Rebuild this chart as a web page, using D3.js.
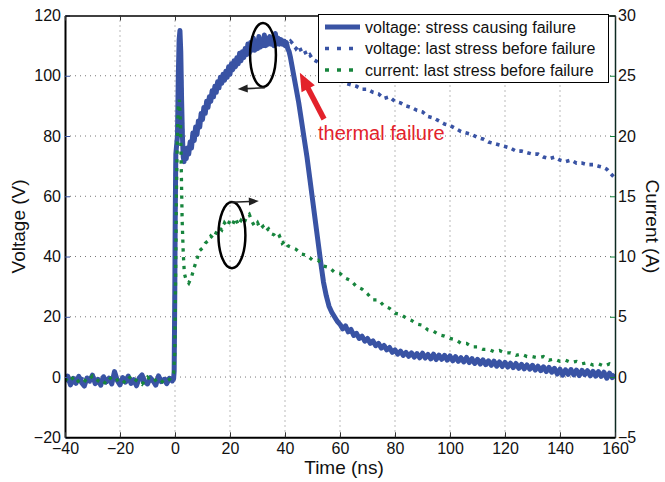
<!DOCTYPE html>
<html><head><meta charset="utf-8">
<script src="https://cdn.jsdelivr.net/npm/d3@7"></script>
<style>
html,body{margin:0;padding:0;background:#fff;}
svg{display:block;font-family:"Liberation Sans",Arial,Helvetica,sans-serif;}
</style></head>
<body><svg id="c" width="665" height="482"></svg>
<script>
// ---------- data ----------
const timeTicks = [-40,-20,0,20,40,60,80,100,120,140,160];
const voltTicks = [-20,0,20,40,60,80,100,120];
const currTicks = [-5,0,5,10,15,20,25,30];
const seriesNames = ["voltage: stress causing failure","voltage: last stress before failure","current: last stress before failure"];
const axisTitles = {x:"Time (ns)", yl:"Voltage (V)", yr:"Current (A)"};

// voltage, stress causing failure [t(ns), V]
const voltageFailure = [[-40,-1.5],[-39,0.3],[-38,-2.6],[-37,-0.4],[-36,-2.1],[-35,0.2],[-34,-1.8],[-33,-3],[-32,-0.3],[-31,-1.2],[-30,0.6],[-29,-2.2],[-28,-0.8],[-27,-2.7],[-26,0.1],[-25,-1.6],[-24,-0.4],[-23,-2.3],[-22,1.8],[-21,-1.1],[-20,-2.6],[-19,-0.2],[-18,-1.7],[-17,0.3],[-16,-2.1],[-15,-0.9],[-14,-2.9],[-13,-0.3],[-12,0.7],[-11,-1.6],[-10,-2.3],[-9,-0.2],[-8,-1.2],[-7,-2.7],[-6,0.4],[-5,-1.5],[-4,-0.8],[-3,-2.2],[-2,-0.4],[-1,-1.3],[-0.5,-0.6],
[-0.3,2],[-0.1,25],[0.1,55],[0.3,74],[0.6,77],[0.9,80],[1.2,100],[1.5,112],[1.8,115],[2.1,108],[2.4,92],[2.7,80],[3.0,73],[3.3,71.5],[3.7,74],[4.1,72.5],[4.5,76],[5,74],[5.5,78],[6,76],[6.5,81],[7,78.5],[7.5,83],[8,80.5],[8.5,85],[9,83],[9.5,87.5],[10,85.5],[10.5,89.5],[11,87.5],[11.5,91.5],[12,89.5],[12.5,93],[13,91.5],[13.5,95],[14,93],[14.5,96.5],[15,94.5],[15.5,98],[16,96],[16.5,99.5],[17,97.5],[17.5,100.5],[18,98.5],[18.5,101.5],[19,99.5],[19.5,103],[20,100.5],[20.5,104],[21,102],[21.5,105],[22,103],[22.5,106],[23,104],[23.5,107.5],[24,105],[24.5,108],[25,106],[25.5,109],[26,107],[26.5,110.5],[27,107.5],[27.5,111],[28,108.5],[28.5,112.5],[29,108.5],[29.5,111.5],[30,109],[30.5,113],[31,109.5],[31.5,112],[32,110],[32.5,113.5],[33,110],[33.5,112.5],[34,110.5],[34.5,113],[35,110.5],[35.5,112],[36,110],[36.5,114],[37,110.5],[37.5,112.5],[38,110.5],[38.5,112],[39,110.5],[39.5,111.5],[40,110],[40.5,111],[41,109],
[41.5,108],[42,106],[43,101],[44,96],[45,91],[46,85],[47,79],[48,73],[49,66],[50,59],[51,52],[52,45],[53,38],[54,31.5],[55,27],[56,23.5],[57,21.5],[58,20],[59,18.5],[60,17.5],
[61,16],[62,17],[63,15],[64,15.8],[65,13.8],[66,14.5],[67,12.8],[68,13.6],[69,11.9],[70,12.8],[71,11.2],[72,12],[73,10.4],[74,11.2],[75,9.6],[76,10.5],[77,9],[78,9.8],[79,8.2],[80,9],[81,7.6],[82,8.6],[83,7.2],[84,8.2],[85,6.9],[86,8],[87,6.6],[88,7.8],[89,6.4],[90,7.9],[91,6.3],[92,7.5],[93,6],[94,7.6],[95,5.8],[96,7.3],[97,5.9],[98,7.2],[99,5.6],[100,7],[101,5.4],[102,6.8],[103,5.2],[104,6.4],[105,5],[106,6.5],[107,4.8],[108,6.1],[109,4.5],[110,5.9],[111,4.3],[112,5.7],[113,4.1],[114,5.4],[115,3.9],[116,5.3],[117,3.6],[118,5],[119,3.5],[120,4.9],[121,3.3],[122,4.6],[123,3.1],[124,4.5],[125,2.9],[126,4.2],[127,2.7],[128,4],[129,2.6],[130,3.9],[131,2.3],[132,3.6],[133,2.1],[134,3.4],[135,1.8],[136,3.2],[137,1.6],[138,2.9],[139,1],[140,2.6],[141,0.6],[142,2.4],[143,0.9],[144,2.5],[145,0.7],[146,2.3],[147,0.5],[148,2.2],[149,0.8],[150,2.1],[151,0.4],[152,1.9],[153,0.3],[154,1.8],[155,0.2],[156,1.6],[157,-0.4],[158,1.3],[159,-0.2],[160,0.9]];

// voltage, last stress before failure [t(ns), V]
const voltageLast = [[-40,-0.8],[-37,-1.8],[-34,-0.5],[-31,-1.6],[-28,-0.7],[-25,-1.9],[-22,-0.6],[-19,-1.5],[-16,-0.4],[-13,-1.7],[-10,-0.9],[-7,-1.6],[-4,-0.5],[-1,-1.2],
[-0.3,1],[0,40],[0.3,75],[0.8,78],[1.3,104],[1.8,114],[2.3,98],[2.8,78],[3.3,72],[4,74],[5,76],[6,79],[7,80.5],[8,82],[9,85],[10,87],[11,89],[12,91],[13,93],[14,94.5],[15,96],[16,97.5],[17,99],[18,100],[19,101.5],[20,102],[21,103.5],[22,104.5],[23,105.5],[24,106.5],[25,107.5],[26,108.5],[27,109],[28,110],[29,110.5],[30,111],[31,111.5],[32,111],[33,112],[34,111.5],[35,112],[36,111.5],[37,112],[38,111.5],[39,111],[40,111.5],
[41,110.5],[42,111.5],[43,110.5],[44,109],[45,110],[46,108],[47,108.5],[48,106.5],[49,107],[50,105.5],[51,105],[52,104.5],[54,103],[56,100.5],[58,99.5],[60,98.5],[62,97.5],[64,97],[66,96.5],[68,95.5],[70,95.5],[72,94.5],[74,94],[76,92.5],[78,93],[80,91.5],[82,91],[84,90],[86,89.5],[88,88.5],[90,88],[92,86.5],[94,86],[96,85],[98,84],[100,83.5],[102,82.5],[104,81.5],[106,81],[108,80.5],[110,79.5],[112,79],[114,78],[116,77.5],[118,77],[120,76.5],[122,76],[124,75],[126,75],[128,74.5],[130,74],[132,74],[134,73],[136,72.5],[138,73],[140,72],[142,71.5],[144,72],[146,71],[148,71],[150,70.5],[152,70.5],[154,70],[156,69.5],[157,69],[158,68],[159,67],[160,66]];

// current, last stress before failure [t(ns), A]
const currentLast = [[-40,-0.3],[-38,0.1],[-36,-0.5],[-34,-0.1],[-32,-0.4],[-30,0.1],[-28,-0.3],[-26,-0.6],[-24,0],[-22,-0.4],[-20,-0.1],[-18,-0.5],[-16,0.1],[-14,-0.3],[-12,-0.6],[-10,0],[-8,-0.4],[-6,-0.1],[-4,-0.5],[-2,-0.2],[-0.5,0.3],
[-0.1,2],[0.2,8],[0.5,15],[0.8,19.5],[1.2,22.5],[1.6,23],[2.0,21],[2.3,17],[2.6,13],[3.0,10.3],[3.4,8.6],[4,8.1],[5,7.8],[6,8.3],[7,9.1],[8,9.8],[9,10.5],[10,10.7],[11,11.1],[12,11.3],[13,11.7],[14,11.5],[15,12.0],[16,12.4],[17,12.2],[18,12.8],[19,12.5],[20,13.0],[21,12.7],[22,13.2],[23,12.6],[24,13.0],[25,12.7],[26,13.3],[27,13.5],[28,12.9],[29,12.5],[30,12.8],[31,12.3],[32,12.5],[33,12.1],[34,12.3],[35,11.9],[36,11.8],[37,11.5],[38,11.7],[39,11.1],[40,11.3],[41,10.9],[42,10.8],[44,10.6],[46,10.2],[48,10.1],[50,9.7],[52,9.7],[54,9.2],[56,9.1],[58,8.7],[60,8.6],[62,8.2],[64,8.0],[66,7.5],[68,7.3],[70,6.9],[72,6.4],[74,6.4],[76,5.9],[78,5.7],[80,5.3],[82,5.2],[84,4.9],[86,4.7],[88,4.4],[90,4.3],[92,3.9],[94,3.8],[96,3.5],[98,3.4],[100,3.2],[102,3.1],[104,2.8],[106,2.8],[108,2.5],[110,2.5],[112,2.3],[114,2.3],[116,2.1],[118,2.2],[120,2.0],[122,2.0],[124,1.8],[126,1.9],[128,1.7],[130,1.7],[132,1.6],[134,1.7],[136,1.4],[138,1.5],[140,1.3],[142,1.4],[144,1.2],[146,1.3],[148,1.1],[150,1.2],[152,1.0],[154,1.1],[156,0.9],[158,1.1],[160,0.9]];

// annotations in data units (t ns, V)
const ellipses = [{t:32,v:106.9,rt:4.7,rv:10.6},{t:20.7,v:47.1,rt:4.9,rv:11.0}];
const axisArrows = [{t0:32.7,v0:96.0,t1:22.8,v1:95.6},{t0:20.5,v0:58.0,t1:30.5,v1:58.4}];
const failArrow = {t0:54.2,v0:85.6,t1:45.4,v1:101.0};
const failLabel = {t:52.0,v:78.6,text:"thermal failure"};

// ---------- layout ----------
const BLUE="#3953a4", GREEN="#17853d", RED="#e3222b";
const L=65, R=615, T=15.5, B=437.3;
const svg = d3.select("#c");
const x = d3.scaleLinear().domain([-40,160]).range([L,R]);
const yV = d3.scaleLinear().domain([-20,120]).range([B,T]);
const yI = d3.scaleLinear().domain([-5,30]).range([B,T]);

// grid
const grid = svg.append("g").attr("stroke","#777").attr("stroke-width",1).attr("stroke-dasharray","1,4");
grid.selectAll("line.v").data(timeTicks.slice(1,-1)).join("line")
  .attr("x1",d=>x(d)).attr("x2",d=>x(d)).attr("y1",T).attr("y2",B);
grid.selectAll("line.h").data(voltTicks.slice(1,-1)).join("line")
  .attr("x1",L).attr("x2",R).attr("y1",d=>yV(d)).attr("y2",d=>yV(d));

// series
svg.append("clipPath").attr("id","clp").append("rect").attr("x",L).attr("y",T-3).attr("width",R-L).attr("height",B-T+3);
const plot = svg.append("g").attr("clip-path","url(#clp)");
const lineV = d3.line().x(d=>x(d[0])).y(d=>yV(d[1]));
const lineI = d3.line().x(d=>x(d[0])).y(d=>yI(d[1]));
plot.append("path").datum(voltageFailure).attr("d",lineV).attr("fill","none")
  .attr("stroke",BLUE).attr("stroke-width",5).attr("stroke-linejoin","round");
plot.append("path").datum(voltageLast).attr("d",lineV).attr("fill","none")
  .attr("stroke",BLUE).attr("stroke-width",3.6).attr("stroke-dasharray","3.6,4.6");
plot.append("path").datum(currentLast).attr("d",lineI).attr("fill","none")
  .attr("stroke",GREEN).attr("stroke-width",3.3).attr("stroke-dasharray","3.3,5.5");

// axes
const fontTick = "16px";
const axL = svg.append("g").attr("transform",`translate(${L},0)`)
  .call(d3.axisLeft(yV).tickValues(voltTicks).tickSize(-5).tickSizeOuter(0).tickPadding(4));
const axR = svg.append("g").attr("transform",`translate(${R},0)`)
  .call(d3.axisRight(yI).tickValues(currTicks).tickSize(-5).tickSizeOuter(0).tickPadding(3));
const axB = svg.append("g").attr("transform",`translate(0,${B})`)
  .call(d3.axisBottom(x).tickValues(timeTicks).tickSize(-5).tickSizeOuter(0).tickPadding(5));
const axT = svg.append("g").attr("transform",`translate(0,${T})`)
  .call(d3.axisTop(x).tickValues(timeTicks).tickSize(-5).tickSizeOuter(0).tickFormat(""));
[axL,axR,axB,axT].forEach(a=>{
  a.selectAll("text").attr("font-size",fontTick).attr("fill","#111").attr("font-family","'Liberation Sans',Arial,sans-serif");
  a.select(".domain").attr("stroke","#000");
});
axL.select(".domain").attr("stroke-width",2);
axB.select(".domain").attr("stroke-width",2);
axR.select(".domain").attr("stroke-width",1.5).attr("stroke","#0d2a22");
axT.select(".domain").attr("stroke-width",1.5);
axL.selectAll(".tick line").attr("stroke",BLUE);
axR.selectAll(".tick line").attr("stroke",GREEN);
axB.selectAll(".tick line").attr("stroke","#333");
axT.selectAll(".tick line").attr("stroke","#333");
axB.selectAll("text").attr("dy","0.74em");

// axis titles
svg.append("text").attr("x",(L+R)/2+4).attr("y",474).attr("text-anchor","middle")
  .attr("font-size","19px").attr("fill","#111").text(axisTitles.x);
svg.append("text").attr("transform",`translate(25,${(T+B)/2}) rotate(-90)`).attr("text-anchor","middle")
  .attr("font-size","19px").attr("fill","#111").text(axisTitles.yl);
svg.append("text").attr("transform",`translate(646,${(T+B)/2}) rotate(90)`).attr("text-anchor","middle")
  .attr("font-size","19px").attr("fill","#111").text(axisTitles.yr);

// annotations
const ann = svg.append("g");
ellipses.forEach(e=>{
  ann.append("ellipse").attr("cx",x(e.t)).attr("cy",yV(e.v))
    .attr("rx",x(e.t+e.rt)-x(e.t)).attr("ry",yV(e.v-e.rv)-yV(e.v))
    .attr("fill","none").attr("stroke","#000").attr("stroke-width",2.5);
});
function arrow(g,x0,y0,x1,y1,w,hl,hw,col){
  const dx=x1-x0, dy=y1-y0, len=Math.hypot(dx,dy), ux=dx/len, uy=dy/len;
  const bx=x1-ux*hl, by=y1-uy*hl;
  g.append("line").attr("x1",x0).attr("y1",y0).attr("x2",bx+ux*1).attr("y2",by+uy*1)
    .attr("stroke",col).attr("stroke-width",w);
  g.append("path").attr("d",`M${x1},${y1}L${bx-uy*hw/2},${by+ux*hw/2}L${bx+uy*hw/2},${by-ux*hw/2}Z`).attr("fill",col);
}
axisArrows.forEach(a=>arrow(ann,x(a.t0),yV(a.v0),x(a.t1),yV(a.v1),1.6,10,8,"#222"));
arrow(ann,x(failArrow.t0),yV(failArrow.v0),x(failArrow.t1),yV(failArrow.v1),5.5,18,15,RED);
ann.append("text").attr("x",x(failLabel.t)).attr("y",yV(failLabel.v)).attr("font-size","20px")
  .attr("fill",RED).text(failLabel.text);

// legend
const lg = svg.append("g");
lg.append("rect").attr("x",318.5).attr("y",14.5).attr("width",290).attr("height",68)
  .attr("fill","#fff").attr("stroke","#000").attr("stroke-width",1);
const rows=[27,48.5,70];
const styles=[{c:BLUE,w:5,d:null},{c:BLUE,w:3.6,d:"4,8"},{c:GREEN,w:3.6,d:"4,8"}];
seriesNames.forEach((n,i)=>{
  const l=lg.append("line").attr("x1",325).attr("x2",360).attr("y1",rows[i]).attr("y2",rows[i])
    .attr("stroke",styles[i].c).attr("stroke-width",styles[i].w);
  if(styles[i].d) l.attr("stroke-dasharray",styles[i].d);
  lg.append("text").attr("x",365).attr("y",rows[i]+5.6).attr("font-size","16px").attr("fill","#111").text(n);
});
</script></body></html>
